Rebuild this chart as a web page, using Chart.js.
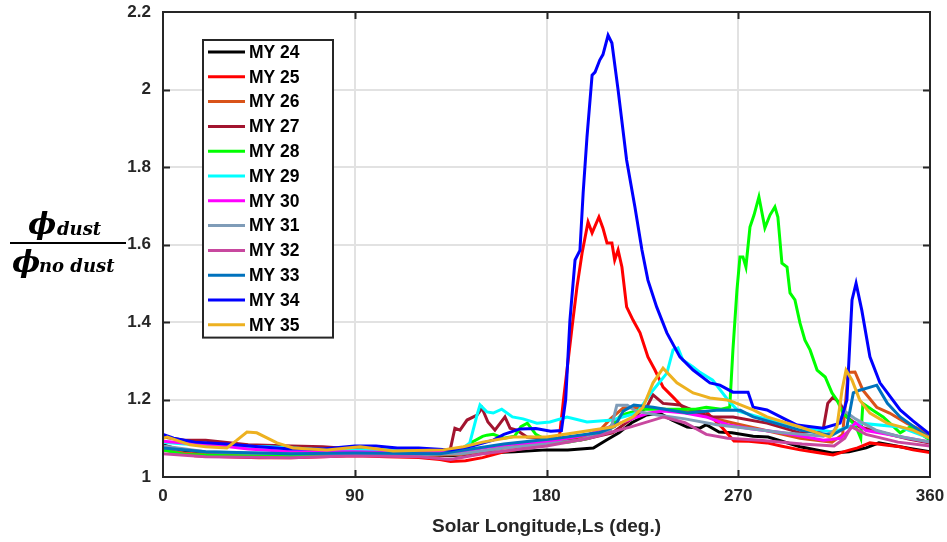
<!DOCTYPE html>
<html>
<head>
<meta charset="utf-8">
<title>Dust ratio vs Ls</title>
<script src="https://cdn.jsdelivr.net/npm/chart.js@4.4.0/dist/chart.umd.min.js"></script>
<style>
    html, body { margin: 0; padding: 0; background: #fff; }
    #wrap { width: 947px; height: 542px; position: relative; }
</style>
</head>
<body>
<div id="wrap"><canvas id="canvas-1" width="947" height="542"></canvas></div>
<script>
'use strict';

// Ls (deg.) sample points and ratio values for each Mars year
var ls24 = [0, 5, 10, 20, 30, 45, 60, 75, 90, 105, 120, 135, 150, 165, 180, 190, 202, 208, 214, 220, 227, 233, 239, 246, 252, 255, 261, 267, 277, 284, 299, 314, 322, 330, 336, 346, 352, 360];
var my24 = [1.083, 1.075, 1.068, 1.063, 1.062, 1.06, 1.058, 1.057, 1.06, 1.058, 1.058, 1.055, 1.062, 1.065, 1.07, 1.07, 1.075, 1.095, 1.114, 1.14, 1.16, 1.165, 1.147, 1.129, 1.126, 1.135, 1.116, 1.114, 1.105, 1.103, 1.078, 1.062, 1.065, 1.075, 1.088, 1.078, 1.072, 1.065];

var ls25 = [0, 5, 15, 30, 45, 60, 75, 90, 105, 120, 130, 135, 142, 150, 160, 170, 180, 186, 188, 192, 194.3, 196.7, 199.5, 201.4, 204.6, 206.5, 208.4, 210.7, 212, 213.6, 215.4, 217.6, 220.6, 223.9, 227.6, 230.9, 234.7, 239.4, 244, 250, 255, 262, 268, 275, 283.5, 290, 299, 307, 314.5, 322.5, 326, 331.8, 340, 346, 352, 360];
var my25 = [1.075, 1.065, 1.055, 1.052, 1.05, 1.05, 1.052, 1.055, 1.052, 1.05, 1.045, 1.04, 1.042, 1.05, 1.065, 1.075, 1.085, 1.10, 1.2, 1.387, 1.49, 1.578, 1.658, 1.63, 1.671, 1.642, 1.604, 1.604, 1.56, 1.586, 1.542, 1.439, 1.405, 1.372, 1.31, 1.276, 1.232, 1.206, 1.18, 1.17, 1.168, 1.13, 1.093, 1.092, 1.088, 1.08, 1.07, 1.063, 1.057, 1.07, 1.075, 1.088, 1.082, 1.078, 1.07, 1.063];

var ls26 = [0, 10, 20, 40, 60, 90, 120, 140, 160, 180, 195, 205, 210, 216, 225, 235, 245, 252, 267, 283, 299, 314, 319, 321.6, 324.8, 328.5, 335, 341, 349, 360];
var my26 = [1.07, 1.062, 1.058, 1.056, 1.055, 1.058, 1.055, 1.058, 1.075, 1.09, 1.1, 1.12, 1.15, 1.178, 1.18, 1.175, 1.17, 1.16, 1.14, 1.12, 1.1, 1.09, 1.11, 1.27, 1.271, 1.224, 1.18, 1.165, 1.139, 1.11];

var ls27 = [0, 10, 20, 40, 60, 75, 90, 105, 120, 133, 135, 137, 139.4, 142.7, 147.4, 149.7, 152.5, 155.8, 160.5, 162.9, 166, 170.8, 180, 195.7, 211, 220, 227, 230, 234.7, 242.6, 252, 258, 267.5, 283.5, 299, 309.8, 312, 314.5, 317.8, 321, 327, 338, 350, 360];
var my27 = [1.103, 1.095, 1.095, 1.083, 1.08, 1.078, 1.072, 1.068, 1.065, 1.06, 1.075, 1.126, 1.121, 1.147, 1.16, 1.178, 1.142, 1.121, 1.155, 1.126, 1.121, 1.103, 1.10, 1.095, 1.114, 1.15, 1.18, 1.212, 1.19, 1.186, 1.165, 1.155, 1.155, 1.139, 1.114, 1.121, 1.19, 1.206, 1.19, 1.155, 1.129, 1.114, 1.098, 1.088];

var ls28 = [0, 10, 30, 60, 90, 120, 140, 145, 150, 152, 155, 160, 165, 168, 171, 175, 180, 190, 200, 210, 215, 225, 240, 250, 255, 262, 266, 267.5, 269.4, 270.8, 272.2, 273.6, 275.5, 277.4, 279.7, 282.5, 284.9, 287.2, 288.6, 290.5, 292.9, 294.3, 296.6, 299, 301.3, 303.7, 307, 310.8, 314, 316.3, 319.2, 323.9, 326, 327.5, 328.5, 333, 338, 346, 350.6, 356, 360];
var my28 = [1.07, 1.058, 1.055, 1.055, 1.058, 1.058, 1.065, 1.09, 1.105, 1.108, 1.11, 1.1, 1.105, 1.13, 1.139, 1.11, 1.095, 1.09, 1.1, 1.13, 1.16, 1.175, 1.175, 1.175, 1.18, 1.175, 1.18, 1.328, 1.483, 1.568, 1.568, 1.542, 1.645, 1.676, 1.723, 1.643, 1.676, 1.697, 1.671, 1.552, 1.542, 1.475, 1.457, 1.397, 1.353, 1.328, 1.276, 1.258, 1.217, 1.199, 1.165, 1.139, 1.12, 1.10, 1.19, 1.173, 1.155, 1.114, 1.129, 1.11, 1.095];

var ls29 = [0, 10, 30, 50, 70, 90, 110, 130, 140, 144, 147.4, 148.8, 152, 155, 159, 164, 169, 175.5, 181.6, 189.6, 199, 211, 222.4, 230, 236.5, 239.4, 241.7, 244, 248.8, 252, 258, 265, 270, 283, 299, 314.5, 327, 346, 360];
var my29 = [1.09, 1.085, 1.08, 1.078, 1.072, 1.07, 1.072, 1.07, 1.072, 1.088, 1.16, 1.186, 1.168, 1.165, 1.175, 1.155, 1.15, 1.139, 1.142, 1.155, 1.142, 1.147, 1.165, 1.224, 1.268, 1.328, 1.333, 1.302, 1.284, 1.27, 1.25, 1.2, 1.17, 1.15, 1.129, 1.116, 1.139, 1.129, 1.10];

var ls30 = [0, 10, 20, 40, 60, 90, 120, 140, 150, 165, 180, 190, 200, 210, 220, 228, 235, 245, 255, 265, 275, 290, 300, 310, 318, 322, 325, 330, 340, 350, 360];
var my30 = [1.092, 1.088, 1.085, 1.072, 1.065, 1.065, 1.062, 1.065, 1.075, 1.085, 1.09, 1.1, 1.11, 1.13, 1.15, 1.165, 1.17, 1.165, 1.155, 1.135, 1.125, 1.115, 1.105, 1.095, 1.1, 1.12, 1.14, 1.12, 1.11, 1.1, 1.09];

var ls31 = [0, 20, 40, 60, 90, 120, 140, 160, 180, 195, 205, 210, 213, 218, 222, 232, 245, 260, 275, 290, 300, 310, 315, 318, 320, 325, 335, 345, 360];
var my31 = [1.08, 1.065, 1.062, 1.06, 1.06, 1.058, 1.06, 1.075, 1.085, 1.095, 1.11, 1.12, 1.185, 1.185, 1.17, 1.16, 1.15, 1.135, 1.125, 1.115, 1.11, 1.105, 1.12, 1.15, 1.17, 1.15, 1.12, 1.105, 1.09];

var ls32 = [0, 20, 60, 90, 120, 135, 150, 180, 200, 220, 235, 245, 255, 265, 280, 300, 315, 320, 323, 330, 345, 360];
var my32 = [1.06, 1.052, 1.05, 1.055, 1.052, 1.045, 1.06, 1.08, 1.1, 1.13, 1.155, 1.14, 1.11, 1.1, 1.095, 1.085, 1.08, 1.1, 1.13, 1.11, 1.09, 1.08];

var ls33 = [0, 20, 60, 90, 130, 160, 185, 205, 212, 216, 221, 230, 246, 261, 271, 277, 299, 314, 321, 324, 327, 332, 335, 340, 346, 360];
var my33 = [1.075, 1.065, 1.06, 1.062, 1.06, 1.085, 1.1, 1.115, 1.13, 1.17, 1.186, 1.18, 1.165, 1.173, 1.172, 1.155, 1.121, 1.108, 1.129, 1.217, 1.224, 1.232, 1.237, 1.19, 1.155, 1.10];

var ls34 = [0, 5, 15, 30, 45, 60, 75, 90, 100, 110, 120, 135, 145, 155, 160, 167.6, 175, 182, 187, 189, 191, 193.4, 195.7, 197.2, 199, 201.4, 202.8, 205, 206.5, 208.9, 210.7, 213.6, 217.6, 221.5, 224.8, 227.6, 231.7, 236.5, 242.6, 248.8, 256.7, 261.4, 267.5, 274.6, 277, 283.5, 292.9, 297.6, 309.8, 317.8, 321, 323.4, 325.3, 328, 331.8, 336.5, 346, 352, 360];
var my34 = [1.11, 1.1, 1.09, 1.085, 1.078, 1.072, 1.072, 1.08, 1.08, 1.075, 1.075, 1.07, 1.08, 1.095, 1.11, 1.124, 1.125, 1.118, 1.12, 1.2, 1.405, 1.56, 1.585, 1.733, 1.877, 2.037, 2.045, 2.076, 2.09, 2.14, 2.12, 1.999, 1.818, 1.697, 1.586, 1.508, 1.439, 1.372, 1.31, 1.276, 1.243, 1.237, 1.219, 1.219, 1.18, 1.173, 1.147, 1.134, 1.126, 1.139, 1.199, 1.457, 1.50, 1.43, 1.31, 1.243, 1.173, 1.145, 1.11];

var ls35 = [0, 2, 12.7, 20, 30, 34.7, 39.4, 44, 53.5, 61, 77, 92.5, 108, 131.5, 141, 150, 164, 180, 195.7, 211, 220.6, 225.3, 230, 234.7, 241.2, 248.8, 252, 256.7, 264.7, 267.5, 277, 283.5, 299, 313, 316.3, 318.7, 320.6, 323.4, 327, 331.8, 339.8, 352, 360];
var my35 = [1.10, 1.103, 1.083, 1.078, 1.075, 1.095, 1.116, 1.114, 1.088, 1.075, 1.07, 1.078, 1.067, 1.07, 1.078, 1.09, 1.103, 1.103, 1.116, 1.129, 1.155, 1.18, 1.243, 1.281, 1.243, 1.217, 1.212, 1.204, 1.199, 1.194, 1.173, 1.155, 1.129, 1.103, 1.129, 1.224, 1.276, 1.25, 1.199, 1.165, 1.139, 1.121, 1.10];

var yearLabels = ["MY 24", "MY 25", "MY 26", "MY 27", "MY 28", "MY 29", "MY 30", "MY 31", "MY 32", "MY 33", "MY 34", "MY 35"];
var yearColors = ["#000000", "#ff0000", "#d95319", "#a2142f", "#00ff00", "#00ffff", "#ff00ff", "#7f9cb8", "#c8489f", "#0072bd", "#0000ff", "#edb120"];
var lsArrays = [ls24, ls25, ls26, ls27, ls28, ls29, ls30, ls31, ls32, ls33, ls34, ls35];
var valArrays = [my24, my25, my26, my27, my28, my29, my30, my31, my32, my33, my34, my35];

var xTicks = [0, 90, 180, 270, 360];
var yTicks = [1, 1.2, 1.4, 1.6, 1.8, 2, 2.2];

var axisColor = "#262626";
var tickFont = { family: "'Liberation Sans', Arial, sans-serif", size: 17, weight: "bold" };

var datasets = [];
for (var i = 0; i < yearLabels.length; i++) {
    var pts = [];
    for (var j = 0; j < lsArrays[i].length; j++) {
        pts.push({ x: lsArrays[i][j], y: valArrays[i][j] });
    }
    datasets.push({
        label: yearLabels[i],
        data: pts,
        borderColor: yearColors[i],
        backgroundColor: yearColors[i],
        borderWidth: 3,
        pointRadius: 0,
        fill: false,
        tension: 0,
        order: yearLabels.length - i   // later years on top, like the original
    });
}

// box, inward ticks, legend and the fraction label
var framePlugin = {
    id: "frame",
    afterDatasetsDraw: function (chart) {
        var ctx = chart.ctx;
        var a = chart.chartArea;
        var xs = chart.scales.x;
        var ys = chart.scales.y;
        var t, p, k;

        ctx.save();
        ctx.strokeStyle = axisColor;
        ctx.lineWidth = 2;
        ctx.beginPath();
        for (k = 1; k < xTicks.length - 1; k++) {
            p = Math.round(xs.getPixelForValue(xTicks[k])) + 0.5;
            ctx.moveTo(p, a.bottom); ctx.lineTo(p, a.bottom - 7);
            ctx.moveTo(p, a.top); ctx.lineTo(p, a.top + 7);
        }
        for (k = 1; k < yTicks.length - 1; k++) {
            p = Math.round(ys.getPixelForValue(yTicks[k])) + 0.5;
            ctx.moveTo(a.left, p); ctx.lineTo(a.left + 7, p);
            ctx.moveTo(a.right, p); ctx.lineTo(a.right - 7, p);
        }
        ctx.stroke();
        ctx.strokeRect(a.left, a.top, a.right - a.left, a.bottom - a.top);

        // legend
        var lx = a.left + 40, ly = a.top + 28, lw = 130, rowH = 24.8;
        var lh = rowH * datasets.length;
        ctx.fillStyle = "#ffffff";
        ctx.fillRect(lx, ly, lw, lh);
        ctx.strokeStyle = axisColor;
        ctx.lineWidth = 2;
        ctx.strokeRect(lx, ly, lw, lh);
        ctx.font = "bold 17.5px 'Liberation Sans', Arial, sans-serif";
        ctx.textBaseline = "middle";
        ctx.textAlign = "left";
        for (t = 0; t < datasets.length; t++) {
            var cy = ly + 12 + t * rowH;
            ctx.strokeStyle = datasets[t].borderColor;
            ctx.lineWidth = 3;
            ctx.beginPath();
            ctx.moveTo(lx + 5, cy);
            ctx.lineTo(lx + 42, cy);
            ctx.stroke();
            ctx.fillStyle = "#000000";
            ctx.fillText(datasets[t].label, lx + 46, cy + 1);
        }

        // y label: phi_dust / phi_no dust
        var midY = Math.round(ys.getPixelForValue(1.6)) - 2;
        ctx.fillStyle = "#000000";
        ctx.fillRect(10, midY - 1, 116, 2);
        ctx.textBaseline = "alphabetic";
        ctx.font = "bold italic 30px 'DejaVu Serif', serif";
        ctx.fillText("\u03d5", 28, midY - 9);
        ctx.fillText("\u03d5", 12, midY + 29);
        ctx.font = "bold italic 18px 'DejaVu Serif', serif";
        ctx.fillText("dust", 57, midY - 8);
        ctx.fillText("no dust", 39, midY + 29);
        ctx.restore();
    }
};

var ctx = document.getElementById("canvas-1");
//noinspection JSUnusedLocalSymbols
var chart = new Chart(ctx, {
    type: "line",
    data: { datasets: datasets },
    options: {
        responsive: false,
        animation: false,
        devicePixelRatio: 1,
        layout: { padding: { left: 0, right: 17, top: 12, bottom: 0 } },
        plugins: {
            legend: { display: false },
            tooltip: { enabled: false },
            title: { display: false }
        },
        scales: {
            x: {
                type: "linear",
                min: 0,
                max: 360,
                afterBuildTicks: function (scale) {
                    scale.ticks = xTicks.map(function (v) { return { value: v }; });
                },
                afterFit: function (scale) {
                    scale.height = 65;
                    scale.paddingLeft = 0;
                    scale.paddingRight = 0;
                },
                grid: { color: "#e2e2e2", lineWidth: 2, drawTicks: false },
                border: { display: false },
                ticks: { color: axisColor, font: tickFont, padding: 9, maxRotation: 0 },
                title: {
                    display: true,
                    text: "Solar Longitude,Ls (deg.)",
                    color: axisColor,
                    font: { family: "'Liberation Sans', Arial, sans-serif", size: 19, weight: "bold" },
                    padding: { top: 2, bottom: 4 }
                }
            },
            y: {
                type: "linear",
                min: 1,
                max: 2.2,
                afterBuildTicks: function (scale) {
                    scale.ticks = yTicks.map(function (v) { return { value: v }; });
                },
                afterFit: function (scale) {
                    scale.width = 163;
                    scale.paddingTop = 0;
                    scale.paddingBottom = 0;
                },
                grid: { color: "#e2e2e2", lineWidth: 2, drawTicks: false },
                border: { display: false },
                ticks: {
                    color: axisColor,
                    font: tickFont,
                    padding: 12,
                    callback: function (v) { return String(Number(v.toFixed(1))); }
                }
            }
        }
    },
    plugins: [framePlugin]
});
</script>
</body>
</html>
